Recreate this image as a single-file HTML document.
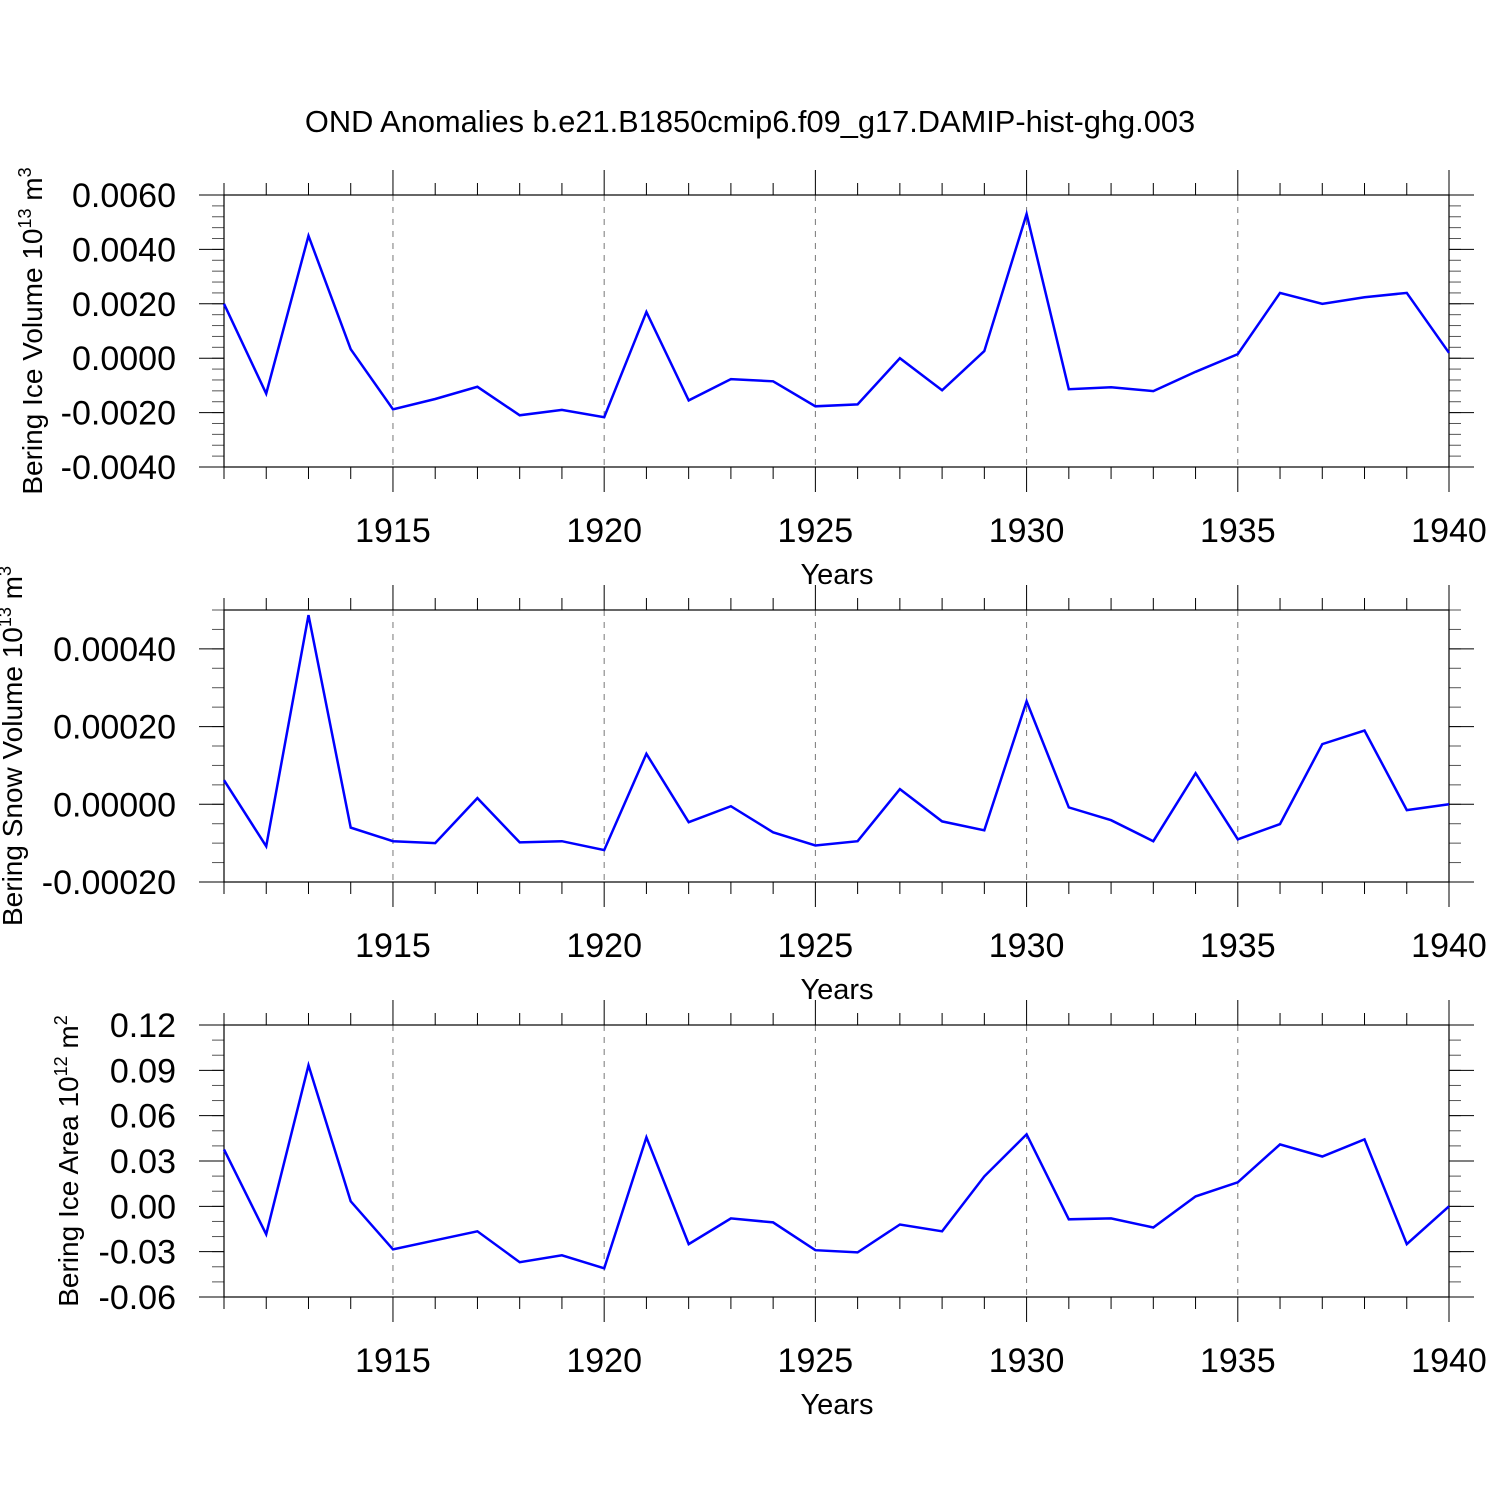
<!DOCTYPE html>
<html><head><meta charset="utf-8"><style>
body{margin:0;background:#fff}
svg{display:block;font-family:"Liberation Sans",sans-serif}
</style></head><body>
<svg id="chart" width="1500" height="1500" viewBox="0 0 1500 1500" xmlns="http://www.w3.org/2000/svg">
<text x="750" y="132" font-size="30.8" text-anchor="middle">OND Anomalies b.e21.B1850cmip6.f09_g17.DAMIP-hist-ghg.003</text>
</svg>
<script>
const years = [1911,1912,1913,1914,1915,1916,1917,1918,1919,1920,1921,1922,1923,1924,1925,1926,1927,1928,1929,1930,1931,1932,1933,1934,1935,1936,1937,1938,1939,1940];
const iceVolume = [0.0020,-0.0013,0.0045,0.00033,-0.00188,-0.0015,-0.00105,-0.0021,-0.0019,-0.00217,0.0017,-0.00155,-0.00077,-0.00085,-0.00177,-0.0017,0.0,-0.00118,0.00026,0.0053,-0.00114,-0.00107,-0.00121,-0.0005,0.00015,0.0024,0.0020,0.00224,0.0024,0.0002];
const snowVolume = [0.000062,-0.000108,0.000487,-0.00006,-0.000095,-0.0001,0.000016,-0.000098,-0.000095,-0.000118,0.00013,-0.000046,-0.000005,-0.000072,-0.000106,-0.000095,0.000039,-0.000044,-0.000067,0.000265,-0.000008,-0.000041,-0.000095,0.00008,-0.00009,-0.000051,0.000155,0.00019,-0.000015,0];
const iceArea = [0.0377,-0.0185,0.0933,0.0033,-0.0285,-0.0225,-0.0165,-0.037,-0.0324,-0.041,0.0457,-0.025,-0.008,-0.0106,-0.029,-0.0305,-0.012,-0.0165,0.0198,0.0477,-0.0086,-0.008,-0.014,0.0066,0.0159,0.041,0.033,0.0443,-0.025,0];
const xTickLabels = ["1915","1920","1925","1930","1935","1940"];
const iceVolTicks = ["0.0060","0.0040","0.0020","0.0000","-0.0020","-0.0040"];
const snowTicks = ["0.00040","0.00020","0.00000","-0.00020"];
const areaTicks = ["0.12","0.09","0.06","0.03","0.00","-0.03","-0.06"];

const NS="http://www.w3.org/2000/svg";
const svg=document.getElementById('chart');
function mk(tag,attrs,parent){const e=document.createElementNS(NS,tag);for(const k in attrs)e.setAttribute(k,attrs[k]);(parent||svg).appendChild(e);return e;}
const X0=224,X1=1449;
function xs(y){return X0+(y-1911)*(X1-X0)/29;}

const panels=[
 {name:'ice-volume',top:195,bot:467,ymin:-0.004,ymax:0.006,data:iceVolume,ticks:iceVolTicks,tickVals:[0.006,0.004,0.002,0,-0.002,-0.004],minor:0.0004,label:'Bering Ice Volume 10',sup:'13',unit:' m',usup:'3',lx:42},
 {name:'snow-volume',top:610,bot:882,ymin:-0.0002,ymax:0.0005,data:snowVolume,ticks:snowTicks,tickVals:[0.0004,0.0002,0,-0.0002],minor:0.00005,label:'Bering Snow Volume 10',sup:'13',unit:' m',usup:'3',lx:22},
 {name:'ice-area',top:1025,bot:1297,ymin:-0.06,ymax:0.12,data:iceArea,ticks:areaTicks,tickVals:[0.12,0.09,0.06,0.03,0,-0.03,-0.06],minor:0.01,label:'Bering Ice Area 10',sup:'12',unit:' m',usup:'2',lx:78}
];
panels.forEach(p=>{
 const g=mk('g',{});
 
 
 const ys=v=>p.bot-(v-p.ymin)/(p.ymax-p.ymin)*(p.bot-p.top);
 for(let yr=1915;yr<1940;yr+=5){const l=mk('line',{x1:xs(yr),x2:xs(yr),y1:p.top,y2:p.bot,stroke:'#777','stroke-width':1,'stroke-dasharray':'6,6'},g);
  }
 for(let yr=1911;yr<=1940;yr++){const maj=yr%5===0;const x=xs(yr);
  mk('line',{x1:x,x2:x,y1:p.top,y2:p.top-(maj?25:12),stroke:'#000','stroke-width':1},g);
  mk('line',{x1:x,x2:x,y1:p.bot,y2:p.bot+(maj?25:12),stroke:'#000','stroke-width':1},g);}
 xTickLabels.forEach(t=>{const tx=mk('text',{x:xs(+t),y:p.bot+75,'font-size':34,'text-anchor':'middle'},g);tx.textContent=t;
  });
 const xt=mk('text',{x:837,y:p.bot+117,'font-size':29,'text-anchor':'middle'},g);xt.textContent='Years';
 
 const n=Math.round((p.ymax-p.ymin)/p.minor);
 for(let i=0;i<=n;i++){const y=ys(p.ymin+i*p.minor);
  mk('line',{x1:X0-12,x2:X0,y1:y,y2:y,stroke:'#555','stroke-width':1},g);
  mk('line',{x1:X1,x2:X1+12,y1:y,y2:y,stroke:'#555','stroke-width':1},g);}
 p.tickVals.forEach((v,i)=>{const y=ys(v);
  mk('line',{x1:X0-25,x2:X0,y1:y,y2:y,stroke:'#000','stroke-width':1},g);
  mk('line',{x1:X1,x2:X1+25,y1:y,y2:y,stroke:'#000','stroke-width':1},g);
  const t=mk('text',{x:176,y:y+12,'font-size':34,'text-anchor':'end'},g);t.textContent=p.ticks[i];
  });
 mk('rect',{x:X0,y:p.top,width:X1-X0,height:p.bot-p.top,fill:'none',stroke:'#000','stroke-width':1.2},g);
 const cy=(p.top+p.bot)/2;
 const yt=mk('text',{x:0,y:0,'font-size':28,'text-anchor':'middle',transform:`translate(${p.lx},${cy}) rotate(-90)`},g);
 
 yt.appendChild(document.createTextNode(p.label));
 const s1=mk('tspan',{dy:-11,'font-size':18},yt);s1.textContent=p.sup;
 const s2=mk('tspan',{dy:11},yt);s2.textContent=p.unit;
 const s3=mk('tspan',{dy:-11,'font-size':18},yt);s3.textContent=p.usup;
 const pts=p.data.map((v,i)=>xs(years[i]).toFixed(1)+','+ys(v).toFixed(1)).join(' ');
 const pl=mk('polyline',{points:pts,fill:'none',stroke:'#0000ff','stroke-width':2.5,'stroke-linejoin':'miter'},g);
 
 
});
</script>
</body></html>
